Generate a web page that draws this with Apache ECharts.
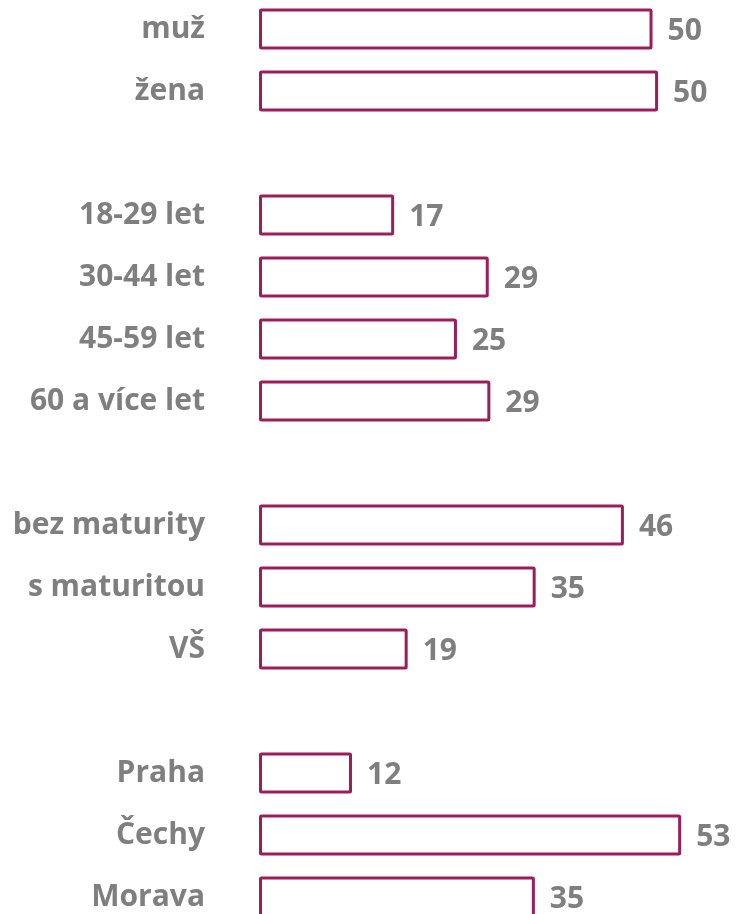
<!DOCTYPE html>
<html>
<head>
<meta charset="utf-8">
<script src="https://cdn.jsdelivr.net/npm/echarts@6/dist/echarts.min.js"></script>
<style>
  html, body { margin: 0; padding: 0; background: #fff; }
  #chart { width: 743px; height: 914px; }
</style>
</head>
<body>
<div id="chart"></div>
<script>
// categories, blank entries are the gaps between groups
var categories = ['muž', 'žena', ' ', '18-29 let', '30-44 let', '45-59 let', '60 a více let', '  ',
  'bez maturity', 's maturitou', 'VŠ', '   ', 'Praha', 'Čechy', 'Morava'];
var values = [49.5, 50.2, null, 17.0, 28.9, 24.9, 29.1, null, 45.9, 34.8, 18.7, null, 11.7, 53.1, 34.7];

var textColor = '#7f7f7f';
var barColor = '#9b1d5a';

var myChart = echarts.init(document.getElementById('chart'));
var option = {
  animation: false,
  grid: {
    left: 259,
    width: 477,
    top: -2,
    height: 930,
    outerBoundsMode: 'none',
    containLabel: false
  },
  xAxis: {
    type: 'value',
    min: 0,
    max: 60,
    show: false
  },
  yAxis: {
    type: 'category',
    inverse: true,
    data: categories,
    axisLine: { show: false },
    axisTick: { show: false },
    splitLine: { show: false },
    axisLabel: {
      margin: 54,
      color: textColor,
      fontSize: 30,
      fontWeight: 'bold',
      fontFamily: 'Open Sans'
    }
  },
  series: [
    {
      type: 'bar',
      data: values,
      barWidth: 41,
      itemStyle: {
        color: '#fff',
        borderColor: barColor,
        borderWidth: 3,
        borderRadius: 1
      },
      label: {
        show: true,
        position: 'right',
        distance: 15,
        offset: [0, 2],
        color: textColor,
        fontSize: 30,
        fontWeight: 'bold',
        fontFamily: 'Open Sans',
        formatter: function (p) { return Math.round(p.value); }
      }
    }
  ]
};
myChart.setOption(option);
</script>
</body>
</html>
